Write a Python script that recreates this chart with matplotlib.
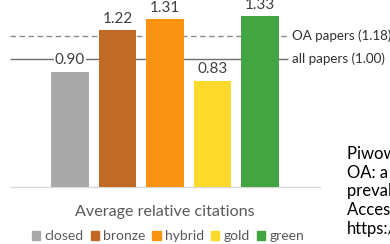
import matplotlib
matplotlib.use('Agg')
import matplotlib.pyplot as plt
from matplotlib.patches import Patch

plt.rcParams['font.family'] = ['Lato', 'DejaVu Sans']

CATEGORIES = ['closed', 'bronze', 'hybrid', 'gold', 'green']
VALUES = [0.90, 1.22, 1.31, 0.83, 1.33]
COLORS = ['#a9a9a9', '#c16a28', '#fa9410', '#fdd92c', '#42a541']

OA_MEAN = 1.18
ALL_MEAN = 1.00
TITLE = 'Average relative citations'
CITATION = ['Piwowar et al. (2018) The state of',
            'OA: a large-scale analysis of the',
            'prevalence and impact of Open',
            'Access articles. PeerJ 6:e4375',
            'https://doi.org/10.7717/peerj.4375']

TXT = '#404040'
SUB = '#595959'

W, H = 390, 244
PX_UNIT = 128.3      # pixels per unit of relative citations
STEP = 47.5          # pixels between bar centres
X0 = 70              # pixel x of first bar centre
BASE = 187           # pixel y of the baseline (from top)


def px(x):
    return (x - X0) / STEP


fig = plt.figure(figsize=(W / 100, H / 100), dpi=100)
ax = fig.add_axes([0, (H - BASE) / H, 1, BASE / H])
ax.set_xlim(px(0), px(W))
ax.set_ylim(0, BASE / PX_UNIT)
ax.axis('off')

xs = list(range(len(CATEGORIES)))
ax.bar(xs, VALUES, width=0.78, color=COLORS, zorder=3)
ax.plot([px(10), px(320)], [0, 0], color='#d9d9d9', lw=1.0, clip_on=False, zorder=2)

# reference lines behind the bars
ax.hlines(ALL_MEAN, px(10), px(288), color='#6f6f6f', lw=1.0, zorder=1)
ax.hlines(OA_MEAN, px(10), px(290), color='#8a8a8a', lw=1.0, ls=(0, (4, 2.5)), zorder=1)
ax.text(px(292), ALL_MEAN, f'all papers ({ALL_MEAN:.2f})', va='center', ha='left',
        fontsize=9.6, color='#303030')
ax.text(px(292), OA_MEAN, f'OA papers ({OA_MEAN:.2f})', va='center', ha='left',
        fontsize=9.6, color='#303030')

for x, v in zip(xs, VALUES):
    ax.annotate(f'{v:.2f}', (x, v), xytext=(0, 3), textcoords='offset points',
                ha='center', va='bottom', fontsize=11, color=TXT, zorder=4,
                bbox=dict(boxstyle='square,pad=0.05', fc='white', ec='none'))

fig.text(165 / W, (H - 212) / H, TITLE, ha='center', va='center', fontsize=11.6, color=SUB)

handles = [Patch(color=c, label=n) for c, n in zip(COLORS, CATEGORIES)]
fig.legend(handles=handles, loc='center', bbox_to_anchor=(168 / W, (H - 236) / H), ncol=5,
           frameon=False, fontsize=10, labelcolor=SUB, handlelength=0.6, handleheight=0.6,
           handletextpad=0.3, columnspacing=0.5, borderpad=0, borderaxespad=0)

for i, line in enumerate(CITATION):
    fig.text(347 / W, (H - 154 - 18.7 * i) / H, line, ha='left', va='center',
             fontsize=12, color='black')

fig.savefig('out.png', dpi=100)
